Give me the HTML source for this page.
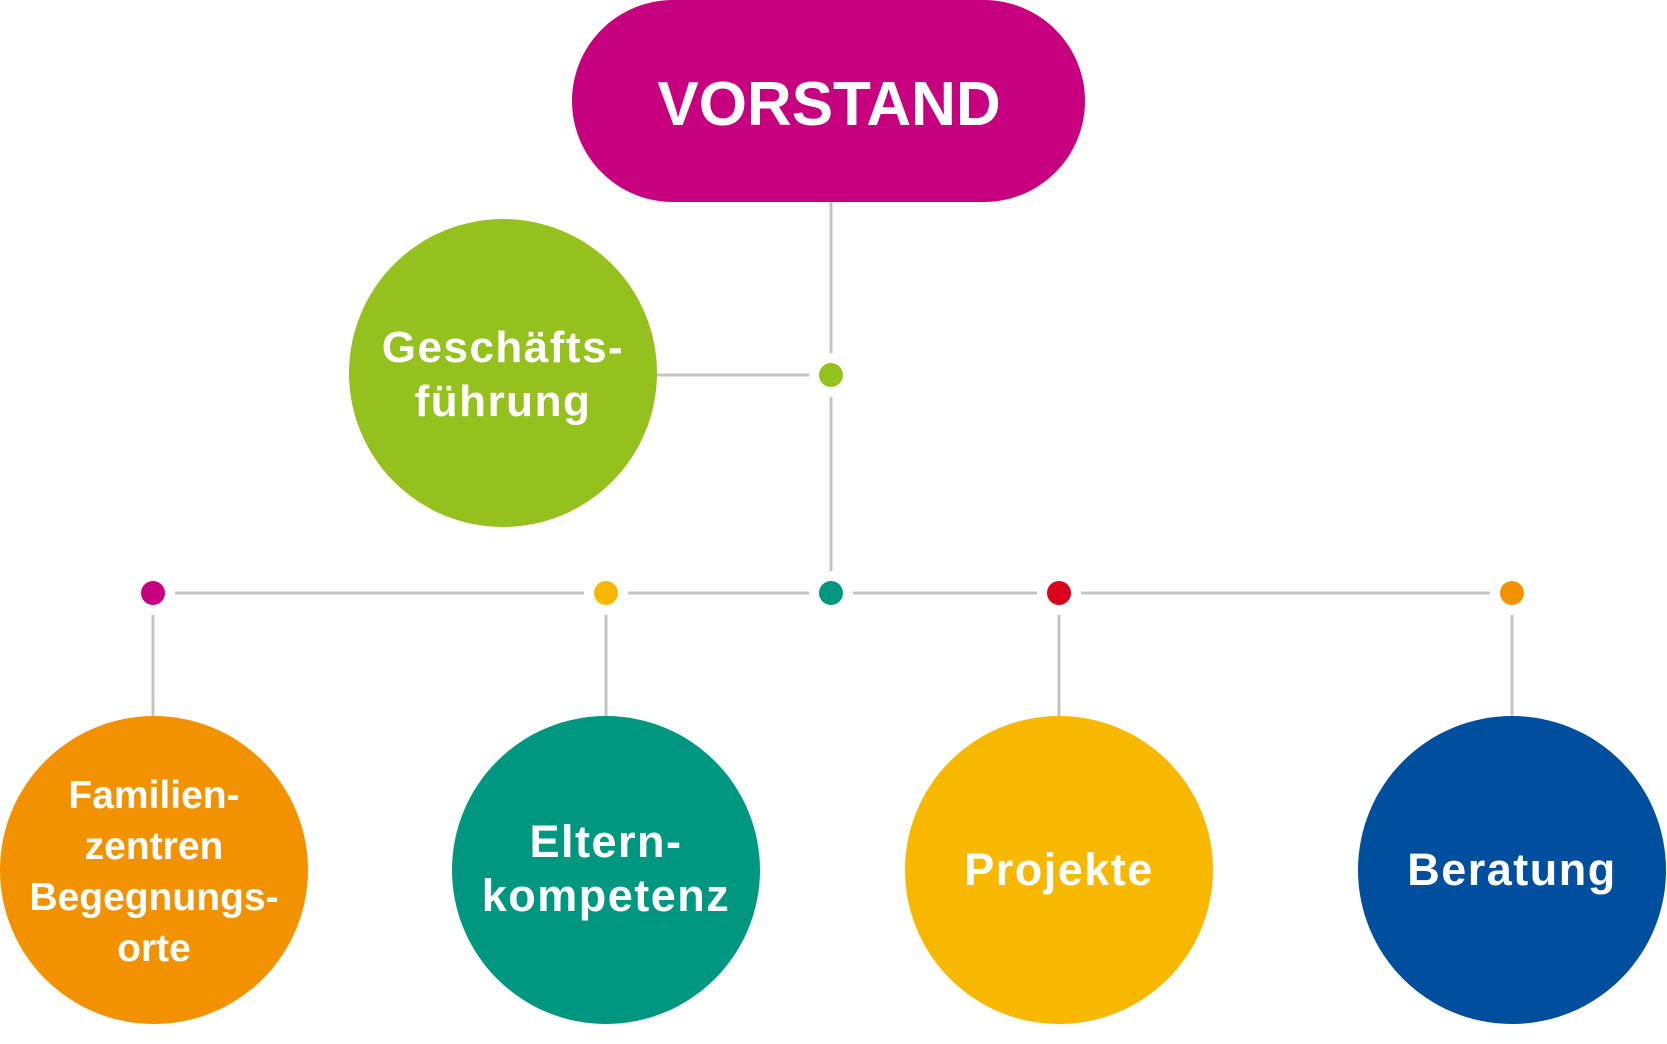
<!DOCTYPE html>
<html><head><meta charset="utf-8"><style>
html,body{margin:0;padding:0;background:#fff;}
svg{display:block;}
text{font-family:"Liberation Sans",sans-serif;font-weight:bold;fill:#fff;text-anchor:middle;}
</style></head><body>
<svg width="1667" height="1044" viewBox="0 0 1667 1044" xmlns="http://www.w3.org/2000/svg">
<g stroke="#c4c4c4" stroke-width="3" fill="none">
<line x1="831" y1="202" x2="831" y2="593"/>
<line x1="656" y1="375" x2="831" y2="375"/>
<line x1="153" y1="593" x2="1512" y2="593"/>
<line x1="153" y1="593" x2="153" y2="716"/>
<line x1="606" y1="593" x2="606" y2="716"/>
<line x1="1059" y1="593" x2="1059" y2="716"/>
<line x1="1512" y1="593" x2="1512" y2="716"/>
</g>
<g stroke="#fff" stroke-width="20">
<circle cx="831" cy="375" r="12" fill="#95c11f"/>
<circle cx="153" cy="593" r="12" fill="#c6007e"/>
<circle cx="606" cy="593" r="12" fill="#f9b800"/>
<circle cx="831" cy="593" r="12" fill="#009781"/>
<circle cx="1059" cy="593" r="12" fill="#d9031b"/>
<circle cx="1512" cy="593" r="12" fill="#f39200"/>
</g>
<g stroke="none">
<circle cx="831" cy="375" r="12" fill="#95c11f"/>
<circle cx="153" cy="593" r="12" fill="#c6007e"/>
<circle cx="606" cy="593" r="12" fill="#f9b800"/>
<circle cx="831" cy="593" r="12" fill="#009781"/>
<circle cx="1059" cy="593" r="12" fill="#d9031b"/>
<circle cx="1512" cy="593" r="12" fill="#f39200"/>
</g>
<rect x="572" y="0" width="513" height="202" rx="101" fill="#c6007e"/>
<text x="829" y="125" font-size="62">VORSTAND</text>
<circle cx="503" cy="373" r="154" fill="#95c11f"/>
<text x="503" y="362" font-size="44" letter-spacing="1.5">Geschäfts-</text>
<text x="503" y="416" font-size="44" letter-spacing="1.5">führung</text>
<circle cx="154" cy="870" r="154" fill="#f39200"/>
<text x="154" y="808" font-size="39">Familien-</text>
<text x="154" y="859" font-size="39">zentren</text>
<text x="154" y="910" font-size="39">Begegnungs-</text>
<text x="154" y="961" font-size="39">orte</text>
<circle cx="606" cy="870" r="154" fill="#009781"/>
<text x="606" y="857" font-size="45" letter-spacing="1.5">Eltern-</text>
<text x="606" y="911" font-size="45" letter-spacing="1.5">kompetenz</text>
<circle cx="1059" cy="870" r="154" fill="#f9b800"/>
<text x="1059" y="885" font-size="45" letter-spacing="1.5">Projekte</text>
<circle cx="1512" cy="870" r="154" fill="#004f9f"/>
<text x="1512" y="885" font-size="45" letter-spacing="1.5">Beratung</text>
</svg>
</body></html>
